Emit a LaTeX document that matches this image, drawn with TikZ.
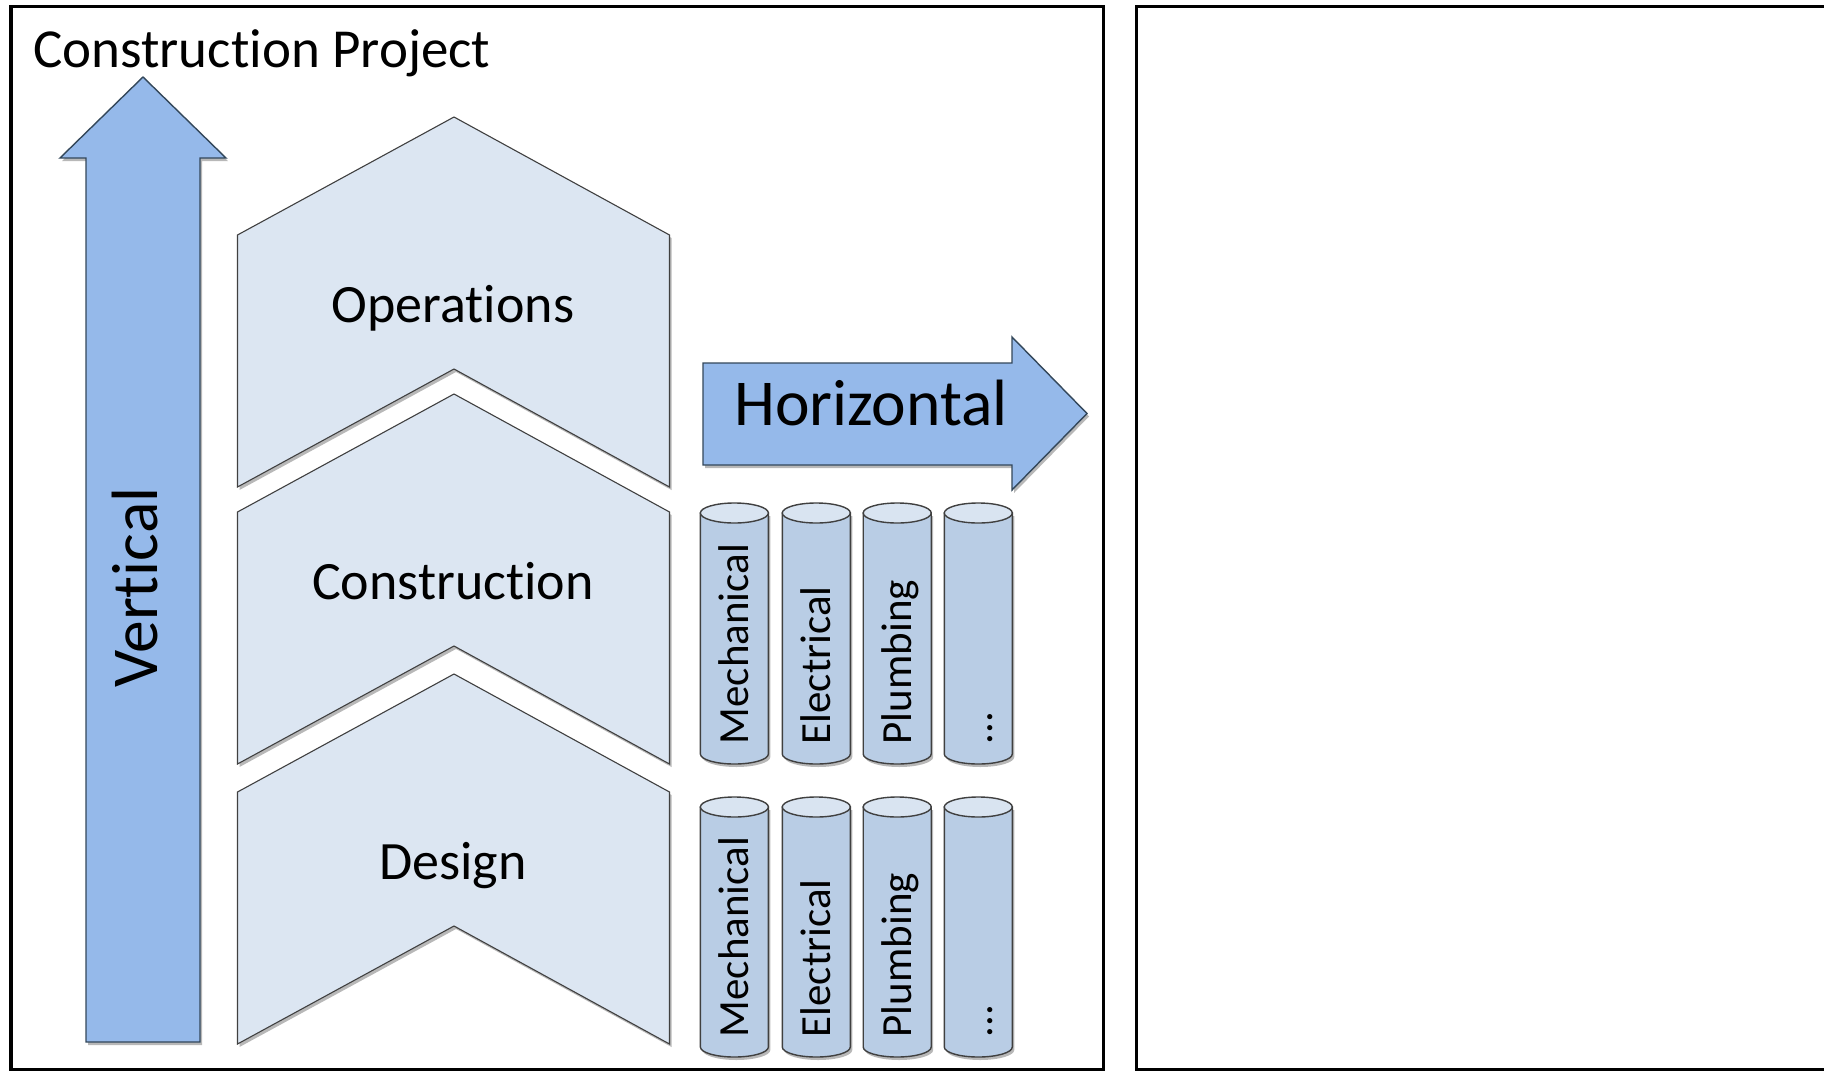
\documentclass[tikz,border=0pt]{standalone}
\usepackage{fontspec}
\setmainfont{Carlito}[Ligatures={NoCommon,NoContextual}]
\usetikzlibrary{shadows}
\definecolor{arrowblue}{HTML}{95B9EA}
\definecolor{chevfill}{HTML}{DCE6F2}
\definecolor{cylbodyc}{HTML}{B9CDE5}
\definecolor{cyltopc}{HTML}{D9E4F1}
\definecolor{edgegray}{HTML}{404040}
\definecolor{arrowedge}{HTML}{33475A}
\newcommand{\mydots}{...}
\begin{document}
\begin{tikzpicture}[x=1pt,y=-1pt,
  frame/.style={draw=black,line width=3.2pt},
  softshadow/.style={drop shadow={shadow xshift=2pt,shadow yshift=-3pt,opacity=0.28,fill=black}},
  bigarrow/.style={fill=arrowblue,draw=arrowedge,line width=1.4pt,line join=miter,softshadow},
  chevron/.style={fill=chevfill,draw=edgegray,line width=1.1pt,line join=miter,softshadow},
  cylside/.style={fill=cylbodyc,draw=edgegray,line width=1.4pt,softshadow},
  cyltopface/.style={fill=cyltopc,draw=edgegray,line width=1.4pt},
  title/.style={anchor=base west,inner sep=0pt,font=\fontsize{55}{62}\selectfont},
  phase/.style={anchor=base,inner sep=0pt,font=\fontsize{54}{60}\selectfont},
  biglabel/.style={inner sep=0pt,font=\fontsize{65.5}{72}\selectfont},
  cyllabel/.style={rotate=90,anchor=base west,inner sep=0pt,font=\fontsize{43}{50}\selectfont}]
\useasboundingbox (0,0) rectangle (1824,1071);
\fill[white] (0,0) rectangle (1824,1071);
% frames
\draw[frame] (11,6.5) rectangle (1103.3,1070);
\draw[frame] (1136.7,6.5) rectangle (1840,1070);
% title
\node[title] (title) at (33,67.5) {Construction Project};
% vertical arrow
\path[bigarrow] (86,1042) -- (86,158) -- (60,158) -- (143,77) -- (226,158) -- (200,158) -- (200,1042) -- cycle;
\node[biglabel,rotate=90,anchor=base] (vlabel) at (157,587.5) {Vertical};
% chevrons
\foreach \T/\nm/\lab in {117/ops/Operations, 394/cons/Construction, 674/des/Design} {
  \path[chevron] (237.5,{\T+118}) -- (454,\T) -- (669.5,{\T+118}) -- (669.5,{\T+370}) -- (454,{\T+252}) -- (237.5,{\T+370}) -- cycle;
  \node[phase] (\nm) at (453,{\T+205}) {\lab};
}
% horizontal arrow
\path[bigarrow] (703,363) -- (1012,363) -- (1012,337) -- (1087,413.5) -- (1012,490) -- (1012,465) -- (703,465) -- cycle;
\node[biglabel,anchor=base] (hlabel) at (871,425) {Horizontal};
% cylinders
\foreach \row/\ty/\by in {a/513/754, b/807/1047} {
  \foreach \cx/\k/\lab in {734.4/1/Mechanical, 816.3/2/Electrical, 897.2/3/Plumbing, 978.3/4/\mydots} {
    \path[cylside] ({\cx+34},\ty) -- ({\cx+34},\by) .. controls ({\cx+34},{\by+5.52}) and ({\cx+18.78},{\by+10}) .. (\cx,{\by+10}) .. controls ({\cx-18.78},{\by+10}) and ({\cx-34},{\by+5.52}) .. ({\cx-34},\by) -- ({\cx-34},\ty) -- cycle;
    \path[cyltopface] (\cx,\ty) ellipse [x radius=34pt, y radius=10pt];
    \node[cyllabel] (cyl\row\k) at ({\cx+14.5},{\by-9.5}) {\lab};
  }
}
\end{tikzpicture}
\end{document}
